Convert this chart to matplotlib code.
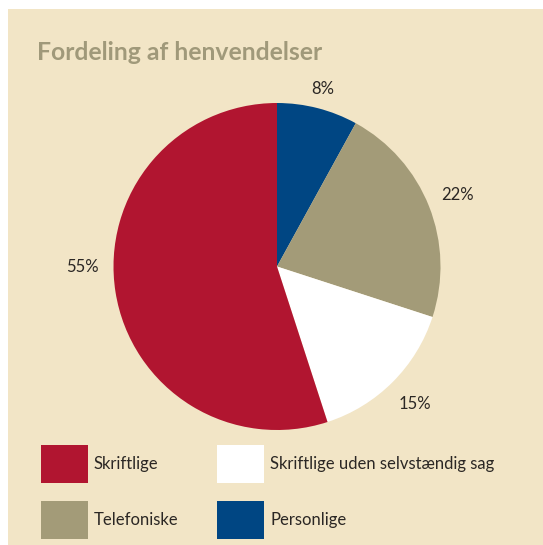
import matplotlib
matplotlib.use("Agg")
import matplotlib.pyplot as plt
from matplotlib.patches import Rectangle
import numpy as np

# data (clockwise from 12 o'clock)
categories = ["Personlige", "Telefoniske", "Skriftlige uden selvstændig sag", "Skriftlige"]
shares = [8, 22, 15, 55]
colors = ["#004683", "#a39b78", "#ffffff", "#b11530"]
pct_labels = ["8%", "22%", "15%", "55%"]
legend_order = ["Skriftlige", "Skriftlige uden selvstændig sag", "Telefoniske", "Personlige"]

BG = "#f2e5c6"
TXT = "#2b2724"
plt.rcParams["font.family"] = ["Lato", "DejaVu Sans"]

W, H = 543, 545
fig = plt.figure(figsize=(W / 100, H / 100), dpi=100)
fig.patch.set_facecolor("white")

# overlay in pixel units for panel, title and legend
ov = fig.add_axes([0, 0, 1, 1])
ov.set_xlim(0, W); ov.set_ylim(H, 0); ov.axis("off")
ov.add_patch(Rectangle((8, 9), W - 8, H - 9, facecolor=BG, edgecolor="none"))
ov.text(37, 60, "Fordeling af henvendelser", fontsize=17.8, fontweight="bold",
        color="#a0997a", ha="left", va="baseline")

# pie
cx, cy, r = 277, 266.5, 163.5
pax = fig.add_axes([(cx - r) / W, 1 - (cy + r) / H, 2 * r / W, 2 * r / H])
wedges, texts = pax.pie(shares, colors=colors, startangle=90, counterclock=False,
                        labels=pct_labels, labeldistance=1.19,
                        wedgeprops=dict(linewidth=0),
                        textprops=dict(fontsize=12, color=TXT))
pax.set_aspect("auto")
pax.set_xlim(-1, 1); pax.set_ylim(-1, 1)
for t in texts:
    t.set_ha("center"); t.set_va("center"); t.set_clip_on(False)
# small label adjustments seen in the original
x8, y8 = texts[0].get_position()
texts[0].set_position((x8 * 1.12 / 1.19, y8 * 1.12 / 1.19))
x55, y55 = texts[3].get_position()
texts[3].set_position((-np.hypot(x55, y55), 0.0))

# legend
sw_x = [41, 217]
sw_y = [445, 501]
for i, name in enumerate(legend_order):
    col, row = i % 2, i // 2
    c = colors[categories.index(name)]
    ov.add_patch(Rectangle((sw_x[col], sw_y[row]), 47, 38, facecolor=c, edgecolor="none"))
    ov.text(sw_x[col] + 53, sw_y[row] + 19, name, fontsize=12, color=TXT,
            ha="left", va="center")

fig.savefig("out.png", dpi=100, facecolor=fig.get_facecolor())
